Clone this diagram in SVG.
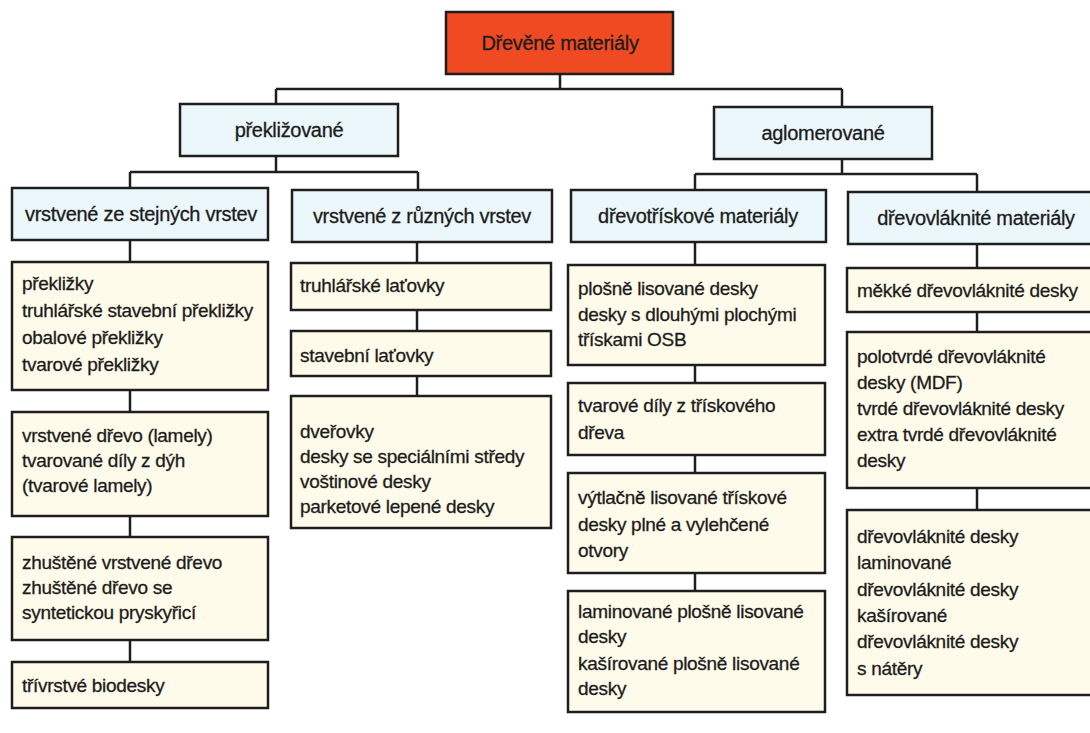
<svg xmlns="http://www.w3.org/2000/svg" width="1090" height="733" viewBox="0 0 1090 733">
<style>
  .box { stroke: #1e1e1e; stroke-width: 2.5; }
  .root { fill: #f04a22; }
  .hdr { fill: #ebf7fa; }
  .leaf { fill: #fffbea; }
  .conn line { stroke: #1e1e1e; stroke-width: 2.5; }
  text { font-family: "Liberation Sans", Arial, sans-serif; fill: #1c1c1c; stroke: #1c1c1c; stroke-width: 0.3px; letter-spacing: -0.3px; }
  .t-hdr { font-size: 20px; text-anchor: middle; }
  .t-body { font-size: 19px; }
</style>
<rect width="1090" height="733" fill="#ffffff"/>

<g id="connectors" class="conn">
  <line x1="560" y1="74" x2="560" y2="89"/>
  <line x1="276" y1="89" x2="842" y2="89"/>
  <line x1="276" y1="89" x2="276" y2="104"/>
  <line x1="842" y1="89" x2="842" y2="107"/>
  <line x1="276" y1="156" x2="276" y2="172"/>
  <line x1="130" y1="172" x2="418" y2="172"/>
  <line x1="130" y1="172" x2="130" y2="188"/>
  <line x1="418" y1="172" x2="418" y2="190"/>
  <line x1="842" y1="159" x2="842" y2="174"/>
  <line x1="695" y1="174" x2="977" y2="174"/>
  <line x1="695" y1="174" x2="695" y2="190"/>
  <line x1="977" y1="174" x2="977" y2="192"/>
  <line x1="130" y1="240" x2="130" y2="262"/>
  <line x1="130" y1="390" x2="130" y2="412"/>
  <line x1="130" y1="516" x2="130" y2="537"/>
  <line x1="130" y1="640" x2="130" y2="662"/>
  <line x1="417" y1="242" x2="417" y2="263"/>
  <line x1="417" y1="310" x2="417" y2="331"/>
  <line x1="417" y1="376" x2="417" y2="396"/>
  <line x1="695" y1="242" x2="695" y2="265"/>
  <line x1="695" y1="365" x2="695" y2="383"/>
  <line x1="695" y1="455" x2="695" y2="473"/>
  <line x1="695" y1="573" x2="695" y2="591"/>
  <line x1="977" y1="244" x2="977" y2="268"/>
  <line x1="977" y1="312" x2="977" y2="332"/>
  <line x1="977" y1="488" x2="977" y2="510"/>
</g>

<g id="n-root">
  <rect class="box root" x="446" y="12" width="227" height="62"/>
  <text class="t-hdr" x="560" y="50">Dřevěné materiály</text>
</g>

<g id="n-preklizovane">
  <rect class="box hdr" x="180" y="104" width="218" height="52"/>
  <text class="t-hdr" x="289" y="137">překližované</text>
</g>
<g id="n-aglomerovane">
  <rect class="box hdr" x="714" y="107" width="218" height="52"/>
  <text class="t-hdr" x="823" y="140">aglomerované</text>
</g>

<g id="n-stejne">
  <rect class="box hdr" x="12" y="188" width="256" height="52"/>
  <text class="t-hdr" x="141" y="221">vrstvené ze stejných vrstev</text>
</g>
<g id="n-ruzne">
  <rect class="box hdr" x="292" y="190" width="260" height="52"/>
  <text class="t-hdr" x="422" y="223">vrstvené z různých vrstev</text>
</g>
<g id="n-trisk">
  <rect class="box hdr" x="571" y="190" width="255" height="52"/>
  <text class="t-hdr" x="698" y="223">dřevotřískové materiály</text>
</g>
<g id="n-vlakn">
  <rect class="box hdr" x="848" y="192" width="250" height="52"/>
  <text class="t-hdr" x="976" y="225">dřevovláknité materiály</text>
</g>

<!-- column 1 -->
<g id="n-c1-1">
  <rect class="box leaf" x="12" y="262" width="256" height="128"/>
  <text class="t-body" x="22" y="290">překližky</text>
  <text class="t-body" x="22" y="317">truhlářské stavební překližky</text>
  <text class="t-body" x="22" y="344">obalové překližky</text>
  <text class="t-body" x="22" y="371">tvarové překližky</text>
</g>
<g id="n-c1-2">
  <rect class="box leaf" x="12" y="412" width="256" height="104"/>
  <text class="t-body" x="22" y="442">vrstvené dřevo (lamely)</text>
  <text class="t-body" x="22" y="467">tvarované díly z dýh</text>
  <text class="t-body" x="22" y="492">(tvarové lamely)</text>
</g>
<g id="n-c1-3">
  <rect class="box leaf" x="12" y="537" width="256" height="103"/>
  <text class="t-body" x="22" y="569">zhuštěné vrstvené dřevo</text>
  <text class="t-body" x="22" y="594">zhuštěné dřevo se</text>
  <text class="t-body" x="22" y="619">syntetickou pryskyřicí</text>
</g>
<g id="n-c1-4">
  <rect class="box leaf" x="12" y="662" width="256" height="46"/>
  <text class="t-body" x="22" y="692">třívrstvé biodesky</text>
</g>

<!-- column 2 -->
<g id="n-c2-1">
  <rect class="box leaf" x="291" y="263" width="260" height="47"/>
  <text class="t-body" x="300" y="292">truhlářské laťovky</text>
</g>
<g id="n-c2-2">
  <rect class="box leaf" x="291" y="331" width="260" height="45"/>
  <text class="t-body" x="300" y="362">stavební laťovky</text>
</g>
<g id="n-c2-3">
  <rect class="box leaf" x="291" y="396" width="260" height="132"/>
  <text class="t-body" x="300" y="438">dveřovky</text>
  <text class="t-body" x="300" y="463">desky se speciálními středy</text>
  <text class="t-body" x="300" y="488">voštinové desky</text>
  <text class="t-body" x="300" y="513">parketové lepené desky</text>
</g>

<!-- column 3 -->
<g id="n-c3-1">
  <rect class="box leaf" x="568" y="265" width="257" height="100"/>
  <text class="t-body" x="578" y="295">plošně lisované desky</text>
  <text class="t-body" x="578" y="321">desky s dlouhými plochými</text>
  <text class="t-body" x="578" y="346">třískami OSB</text>
</g>
<g id="n-c3-2">
  <rect class="box leaf" x="568" y="383" width="257" height="72"/>
  <text class="t-body" x="578" y="412">tvarové díly z třískového</text>
  <text class="t-body" x="578" y="439">dřeva</text>
</g>
<g id="n-c3-3">
  <rect class="box leaf" x="568" y="473" width="257" height="100"/>
  <text class="t-body" x="578" y="504">výtlačně lisované třískové</text>
  <text class="t-body" x="578" y="531">desky plné a vylehčené</text>
  <text class="t-body" x="578" y="557">otvory</text>
</g>
<g id="n-c3-4">
  <rect class="box leaf" x="568" y="591" width="257" height="121"/>
  <text class="t-body" x="578" y="618">laminované plošně lisované</text>
  <text class="t-body" x="578" y="643">desky</text>
  <text class="t-body" x="578" y="670">kašírované plošně lisované</text>
  <text class="t-body" x="578" y="695">desky</text>
</g>

<!-- column 4 -->
<g id="n-c4-1">
  <rect class="box leaf" x="847" y="268" width="250" height="44"/>
  <text class="t-body" x="857" y="297">měkké dřevovláknité desky</text>
</g>
<g id="n-c4-2">
  <rect class="box leaf" x="847" y="332" width="250" height="156"/>
  <text class="t-body" x="857" y="363">polotvrdé dřevovláknité</text>
  <text class="t-body" x="857" y="389">desky (MDF)</text>
  <text class="t-body" x="857" y="415">tvrdé dřevovláknité desky</text>
  <text class="t-body" x="857" y="441">extra tvrdé dřevovláknité</text>
  <text class="t-body" x="857" y="467">desky</text>
</g>
<g id="n-c4-3">
  <rect class="box leaf" x="847" y="510" width="250" height="185"/>
  <text class="t-body" x="857" y="543">dřevovláknité desky</text>
  <text class="t-body" x="857" y="569">laminované</text>
  <text class="t-body" x="857" y="596">dřevovláknité desky</text>
  <text class="t-body" x="857" y="622">kašírované</text>
  <text class="t-body" x="857" y="648">dřevovláknité desky</text>
  <text class="t-body" x="857" y="675">s nátěry</text>
</g>
</svg>
